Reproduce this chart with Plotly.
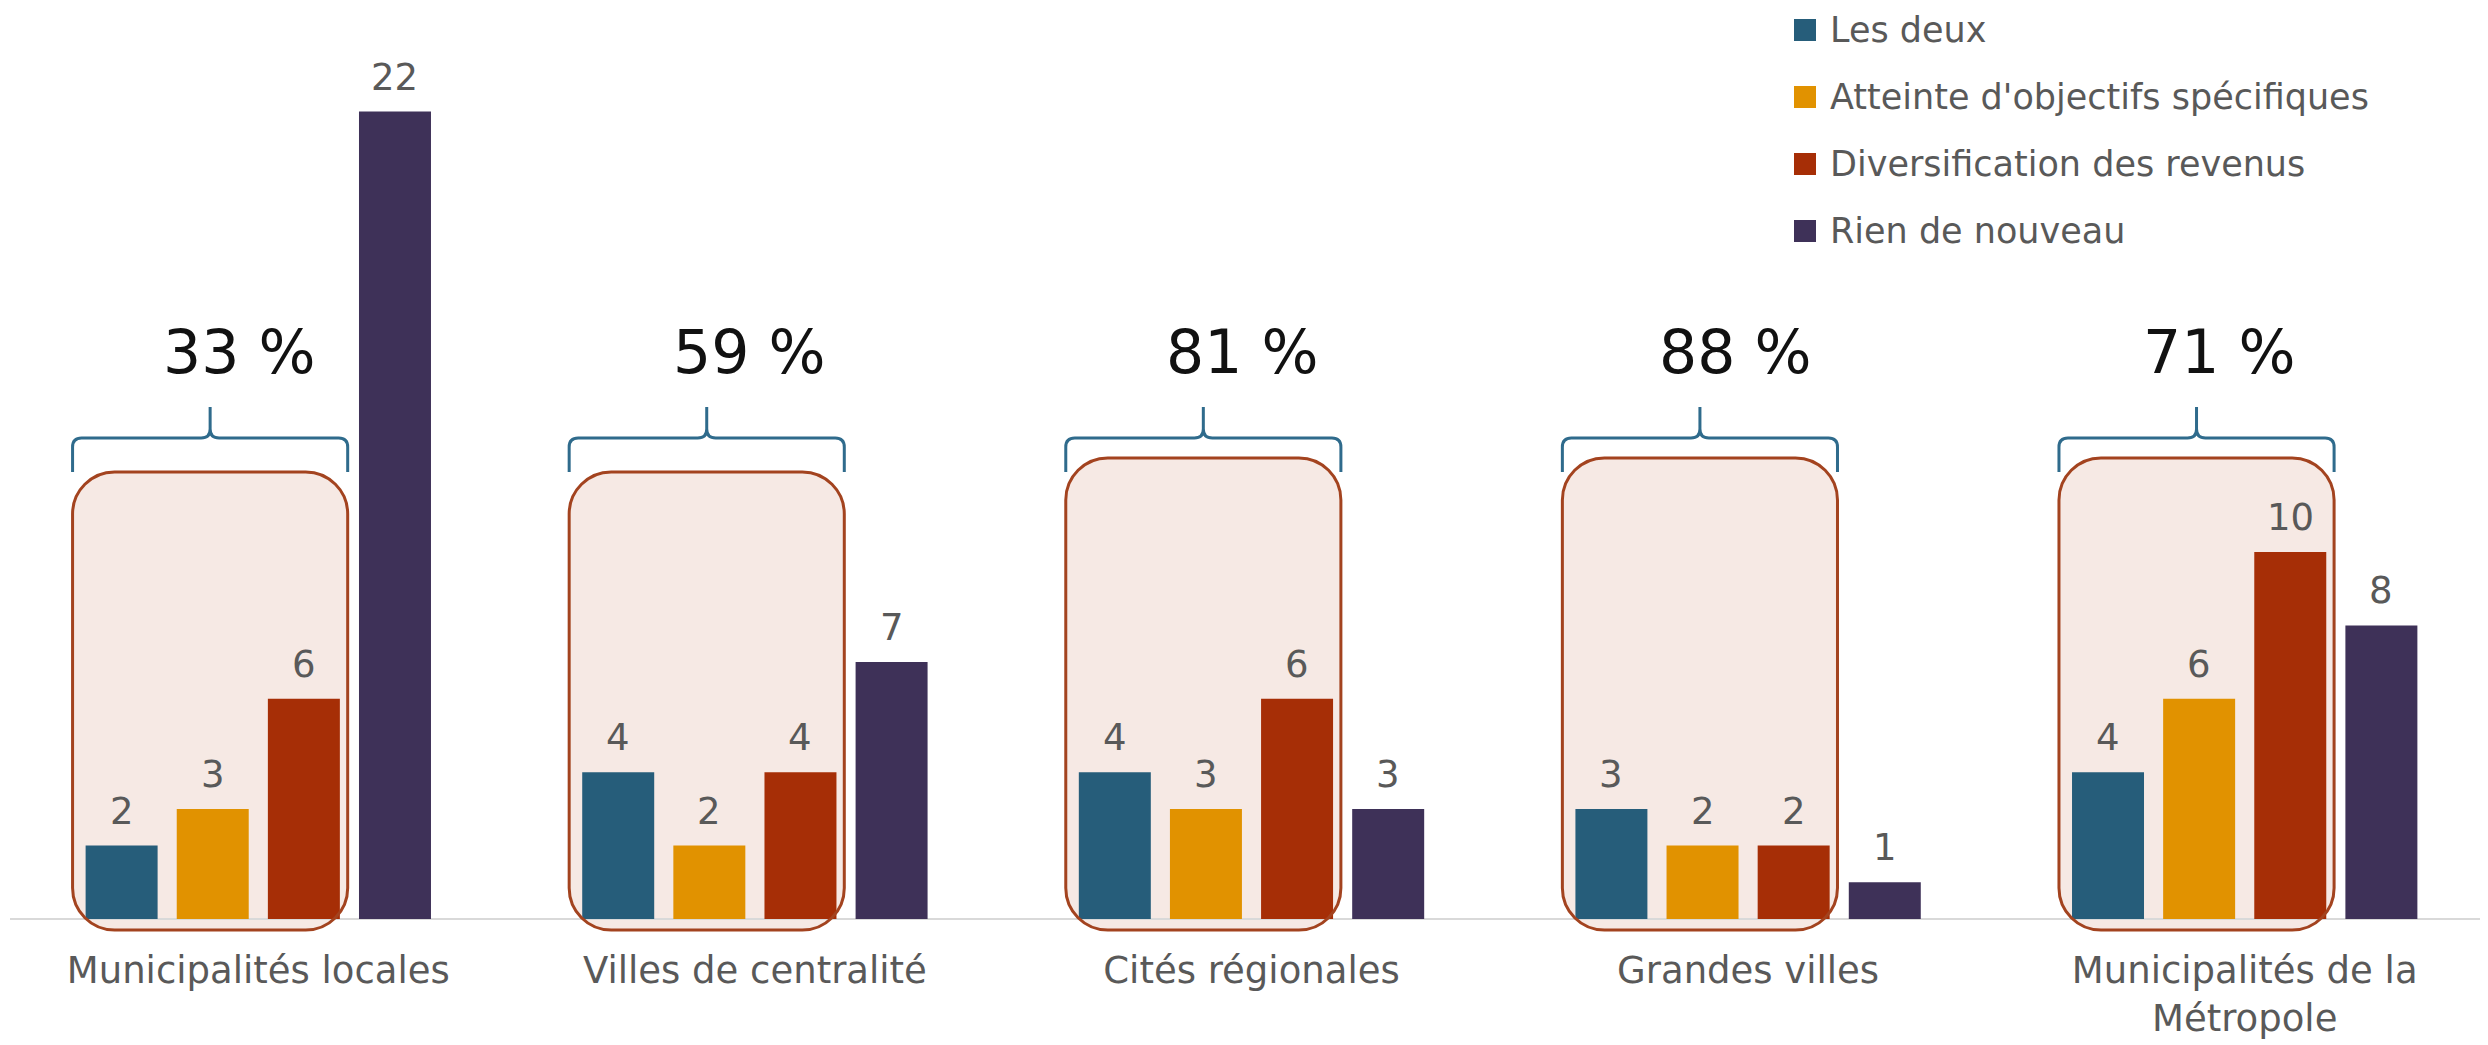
import plotly.graph_objects as go

# ---------------- data ----------------
categories = ["Municipalités locales", "Villes de centralité", "Cités régionales",
              "Grandes villes", "Municipalités de la Métropole"]
tick_labels = ["Municipalités locales", "Villes de centralité", "Cités régionales",
               "Grandes villes", "Municipalités de la<br>Métropole"]
series_names = ["Les deux", "Atteinte d'objectifs spécifiques",
                "Diversification des revenus", "Rien de nouveau"]
les_deux = [2, 4, 4, 3, 4]
atteinte = [3, 2, 3, 2, 6]
diversification = [6, 4, 6, 2, 10]
rien = [22, 7, 3, 1, 8]
pct_labels = ["33 %", "59 %", "81 %", "88 %", "71 %"]

# ---------------- styles / layout ----------------
colors = ["#265D7A", "#E19200", "#A62E06", "#3E3158"]
FONT = "DejaVu Sans"
GREY = "#595959"
OFF = 8                 # page body margin (screen px -> figure px)
W, H = 2488 - OFF, 1045 - OFF
ML, MR, MT = 2, 0, 0
BASE_PX = 919 - OFF     # figure pixel row of value 0
UNIT_PX = 36.7          # pixels per unit on y
CAT_PX = 496.6          # pixels per category on x
PLOT_BOTTOM = BASE_PX + 15
MB = H - PLOT_BOTTOM
PW, PH = W - ML - MR, H - MT - MB
BARGAP, GROUPGAP = 0.266, 0.21

x_range = [-0.5, -0.5 + PW / CAT_PX]
y_range = [-(PLOT_BOTTOM - BASE_PX) / UNIT_PX, (BASE_PX - MT) / UNIT_PX]

xs = list(range(len(categories)))
series = [les_deux, atteinte, diversification, rien]

fig = go.Figure()
for name, vals, col in zip(series_names, series, colors):
    fig.add_trace(go.Bar(
        x=xs, y=vals, name=name, marker=dict(color=col, line=dict(width=0)),
        showlegend=False, hoverinfo="skip",
    ))

shapes = []
annotations = []

def py2y(py):            # screen pixel row -> data y
    return (BASE_PX - (py - OFF)) / UNIT_PX

# value labels above each bar (positions follow plotly's grouping rule)
slot = (1 - BARGAP) / len(series)
for j, vals in enumerate(series):
    dx = -0.5 * (1 - BARGAP) + (j + 0.5) * slot
    for i, v in zip(xs, vals):
        annotations.append(dict(x=i + dx, y=v, xref="x", yref="y", text=str(v),
                                showarrow=False, xanchor="center", yanchor="bottom",
                                yshift=11,
                                font=dict(family=FONT, size=37, color=GREY)))

# bracket geometry (relative to category centre)
bx0, bx1 = -0.374, 0.180
rect_tops_px = [472, 472, 458, 458, 458]
rect_bottom = py2y(930)
pct_offsets = [-0.039, -0.011, -0.020, -0.027, -0.052]
k = 0.5523

for i in xs:
    x0, x1 = i + bx0, i + bx1
    y1 = py2y(rect_tops_px[i])
    y0 = rect_bottom
    rx, ry = 42 / CAT_PX, 42 / UNIT_PX
    path = (f"M{x0+rx},{y1} L{x1-rx},{y1} "
            f"C{x1-rx+k*rx},{y1} {x1},{y1-ry+k*ry} {x1},{y1-ry} "
            f"L{x1},{y0+ry} "
            f"C{x1},{y0+ry-k*ry} {x1-rx+k*rx},{y0} {x1-rx},{y0} "
            f"L{x0+rx},{y0} "
            f"C{x0+rx-k*rx},{y0} {x0},{y0+ry-k*ry} {x0},{y0+ry} "
            f"L{x0},{y1-ry} "
            f"C{x0},{y1-ry+k*ry} {x0+rx-k*rx},{y1} {x0+rx},{y1} Z")
    shapes.append(dict(type="path", path=path, xref="x", yref="y", layer="below",
                       fillcolor="#F6E9E4", line=dict(width=0)))
    shapes.append(dict(type="path", path=path, xref="x", yref="y", layer="above",
                       fillcolor="rgba(0,0,0,0)", line=dict(color="#A3431F", width=3)))
    # curly brace
    yb, yh, yt = py2y(472), py2y(438), py2y(407)
    xm = (x0 + x1) / 2
    brx, bry = 9 / CAT_PX, 9 / UNIT_PX
    bpath = (f"M{x0},{yb} L{x0},{yh-bry} Q{x0},{yh} {x0+brx},{yh} "
             f"L{xm-brx},{yh} Q{xm},{yh} {xm},{yh+bry} L{xm},{yt} "
             f"L{xm},{yh+bry} Q{xm},{yh} {xm+brx},{yh} "
             f"L{x1-brx},{yh} Q{x1},{yh} {x1},{yh-bry} L{x1},{yb}")
    shapes.append(dict(type="path", path=bpath, xref="x", yref="y", layer="above",
                       line=dict(color="#2F6B8C", width=3)))
    annotations.append(dict(x=i + pct_offsets[i], y=py2y(352), xref="x", yref="y",
                            text=pct_labels[i], showarrow=False,
                            xanchor="center", yanchor="middle",
                            font=dict(family=FONT, size=60, color="#111111")))

# manual legend (large square swatches)
def px2xp(px):           # screen px -> paper x
    return (px - OFF - ML) / PW

def py2yp(py):           # screen px -> paper y
    return (MT + PH - (py - OFF)) / PH

leg_centers = [30, 97, 164, 231]
for name, col, cy in zip(series_names, colors, leg_centers):
    shapes.append(dict(type="rect", xref="paper", yref="paper",
                       x0=px2xp(1794), x1=px2xp(1816),
                       y0=py2yp(cy + 11), y1=py2yp(cy - 11),
                       fillcolor=col, line=dict(width=0)))
    annotations.append(dict(x=px2xp(1828), y=py2yp(cy), xref="paper", yref="paper",
                            text=name, showarrow=False, xanchor="left", yanchor="middle",
                            font=dict(family=FONT, size=35, color=GREY)))

fig.update_layout(
    width=W, height=H,
    margin=dict(l=ML, r=MR, t=MT, b=MB, pad=0),
    paper_bgcolor="white", plot_bgcolor="white",
    barmode="group", bargap=BARGAP, bargroupgap=GROUPGAP,
    showlegend=False,
    shapes=shapes, annotations=annotations,
    xaxis=dict(range=x_range, tickvals=xs, ticktext=tick_labels,
               showgrid=False, zeroline=False, showline=False, ticks="",
               ticklabelstandoff=11,
               tickfont=dict(family=FONT, size=37, color=GREY)),
    yaxis=dict(range=y_range, showgrid=False, showticklabels=False, ticks="",
               zeroline=True, zerolinecolor="#D9D9D9", zerolinewidth=2,
               showline=False),
)

fig.write_html("out.html")
